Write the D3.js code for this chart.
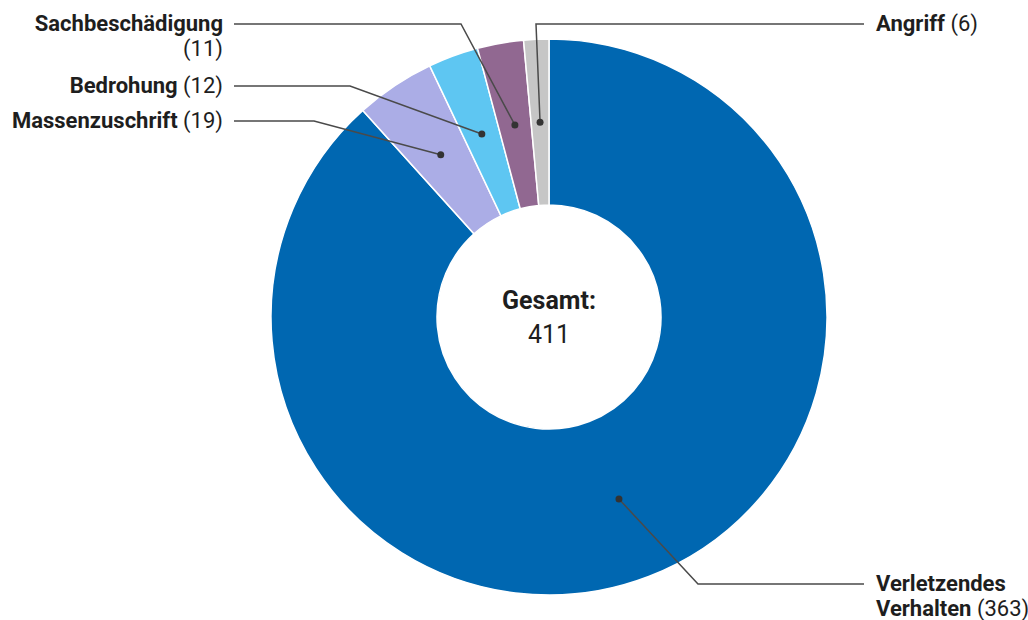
<!DOCTYPE html>
<html><head><meta charset="utf-8">
<script src="https://cdn.jsdelivr.net/npm/d3@7"></script>
<style>
html,body{margin:0;padding:0;background:#fff;}
svg{display:block;font-family:Roboto,"Noto Sans",sans-serif;}
</style></head>
<body>
<svg id="chart" width="1028" height="620"></svg>
<script>
// Data
const categories = ["Verletzendes Verhalten","Massenzuschrift","Bedrohung","Sachbeschädigung","Angriff"];
const values = [363, 19, 12, 11, 6];
const colors = ["#0067b1","#abade6","#5ec6f2","#916891","#c6c6c6"];
const labelLines = [["Verletzendes","Verhalten"],["Massenzuschrift"],["Bedrohung"],["Sachbeschädigung"],["Angriff"]];
const centerTitle = "Gesamt:";

// Layout (positions only)
const layout = [
  {side:"right", elbowX:698, lineY:584, endX:864, textX:876, numOnNewLine:false},
  {side:"left",  elbowX:314, lineY:121, endX:234, textX:223, numOnNewLine:false},
  {side:"left",  elbowX:350, lineY:86,  endX:234, textX:223, numOnNewLine:false},
  {side:"left",  elbowX:461, lineY:24,  endX:234, textX:223, numOnNewLine:true},
  {side:"right", elbowX:536, lineY:24,  endX:864, textX:876, numOnNewLine:false}
];

const svg = d3.select("#chart");
const cx = 549, cy = 317, rOuter = 278, rInner = 112;
const g = svg.append("g").attr("transform",`translate(${cx},${cy})`);

const data = categories.map((c,i)=>({name:c, value:values[i], color:colors[i], lines:labelLines[i], lay:layout[i]}));
const pie = d3.pie().value(d=>d.value).sort(null);
const arcs = pie(data);
const arc = d3.arc().innerRadius(rInner).outerRadius(rOuter);

g.selectAll("path.slice").data(arcs).join("path")
  .attr("class","slice")
  .attr("d", arc)
  .attr("fill", d=>d.data.color)
  .attr("stroke","#fff").attr("stroke-width",1.5);

// Leader lines
const total = d3.sum(values);
arcs.forEach(a=>{
  const [px,py] = arc.centroid(a);
  const L = a.data.lay;
  svg.append("polyline")
    .attr("points", `${cx+px},${cy+py} ${L.elbowX},${L.lineY} ${L.endX},${L.lineY}`)
    .attr("fill","none").attr("stroke","#4a4a4a").attr("stroke-width",1.5);
  svg.append("circle").attr("cx",cx+px).attr("cy",cy+py).attr("r",3.5).attr("fill","#333");

  const fs = 22, lh = 24.5;
  const t = svg.append("text")
    .attr("x", L.textX).attr("y", L.lineY + 7)
    .attr("text-anchor", L.side==="left" ? "end" : "start")
    .attr("font-size", fs).attr("fill","#1e1e1e");
  const lines = a.data.lines;
  lines.forEach((ln,i)=>{
    t.append("tspan").attr("x",L.textX).attr("dy", i===0?0:lh)
      .attr("font-weight",700).text(ln);
    if(i===lines.length-1 && !L.numOnNewLine){
      t.append("tspan").attr("font-weight",400).text(` (${a.data.value})`);
    }
  });
  if(L.numOnNewLine){
    t.append("tspan").attr("x",L.textX).attr("dy",lh).attr("font-weight",400).text(`(${a.data.value})`);
  }
});

// Center
svg.append("text").attr("x",cx).attr("y",309).attr("text-anchor","middle")
  .attr("font-size",25).attr("font-weight",700).attr("fill","#1e1e1e").text(centerTitle);
svg.append("text").attr("x",cx).attr("y",343).attr("text-anchor","middle")
  .attr("font-size",25).attr("font-weight",400).attr("fill","#1e1e1e").text(total);
</script>
</body></html>
